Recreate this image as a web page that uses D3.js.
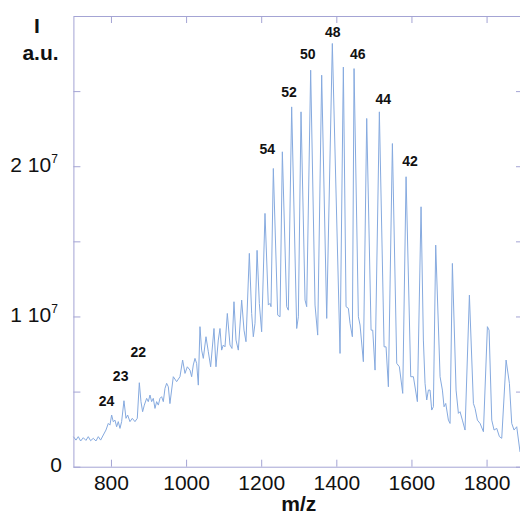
<!DOCTYPE html>
<html lang="en">
<head>
<meta charset="UTF-8">
<title>Mass spectrum</title>
<script src="https://cdn.jsdelivr.net/npm/d3@7"></script>
<style>
  body { margin: 0; background: #fff; }
  svg { display: block; font-family: "Liberation Sans", Arial, sans-serif; }
  .frame { fill: none; stroke: #a4a4d4; stroke-width: 1; }
  .axis path.domain { display: none; }
  .axis line { stroke: #a4a4d4; }
  .axis text { font-size: 21px; fill: #111; font-family: "Liberation Sans", Arial, sans-serif; }
  .spectrum { fill: none; stroke: #86aadf; stroke-width: 1; }
  .charge { font-size: 14px; font-weight: bold; text-anchor: middle; fill: #111; }
  .title { font-size: 21px; font-weight: bold; fill: #111; }
</style>
</head>
<body>
<script>
    // spectrum: m/z and intensity (x 10^6 a.u.)
    const mz = [700, 706.8, 713, 719.2, 726.3, 733.4, 739.6, 745.8, 753, 760, 766.3, 772.5, 779.6, 786.7, 792.9, 797.3,
        801.8, 806.2, 810.7, 815.1, 819.5, 824, 828.4, 834.6, 840, 844.4, 850.6, 856.8, 863.9, 870.1, 875.5, 879.9,
        884.3, 888.8, 895, 899.4, 903.9, 908.3, 912.7, 917.2, 921.6, 926.1, 930.5, 934.9, 939.4, 943.8, 948.2, 952.7,
        957, 966, 974.9, 983.7, 990.8, 997.1, 1003.3, 1010.4, 1014.8, 1019.2, 1023.7, 1028.1, 1032.6, 1037, 1041.4,
        1045.9, 1053, 1059.2, 1065.4, 1074.3, 1079.6, 1085.8, 1090.3, 1094.7, 1099.1, 1103.6, 1109.8, 1116.9, 1122.2,
        1127.5, 1132.9, 1139.1, 1148, 1154.2, 1159.5, 1168.4, 1174.6, 1179, 1183.5, 1189, 1195, 1201.2, 1210.1, 1219,
        1223.4, 1226.1, 1232.3, 1243.9, 1250.1, 1256.3, 1267.8, 1272.3, 1281.1, 1294.5, 1298.9, 1306, 1316.7, 1321.1,
        1331.7, 1343.3, 1350.4, 1361, 1374.4, 1389.4, 1409.9, 1418.7, 1425.9, 1432.1, 1436.5, 1442.7, 1447.2, 1458.7,
        1463.2, 1472, 1480.9, 1492.5, 1496.9, 1503.1, 1514.6, 1527.1, 1532.4, 1538.6, 1549.3, 1560.8, 1567.9, 1576.8,
        1585.7, 1598.1, 1605.2, 1615.8, 1625.6, 1631.8, 1636.2, 1640.7, 1645.1, 1649.5, 1654, 1658.4, 1664.6, 1676.2,
        1682.4, 1686.8, 1691.3, 1698.4, 1702.8, 1709, 1718.8, 1725, 1729.4, 1735.6, 1742.7, 1754.3, 1765, 1769.4,
        1775.6, 1782.7, 1791.6, 1802.2, 1806.7, 1813.8, 1820, 1827.1, 1834.2, 1840.4, 1852, 1860.8, 1867, 1873.2,
        1880.3, 1889, 1896]
    const intensity = [2.0, 1.77, 2.0, 1.71, 1.93, 1.75, 2.0, 1.73, 1.89, 1.71, 2.0, 1.77, 2.11, 2.44, 2.88, 2.77,
        3.44, 2.99, 3.1, 2.66, 3.0, 2.55, 3.0, 4.39, 3.22, 3.44, 3.0, 3.22, 3.0, 3.22, 5.59, 4.33,
        3.66, 4.1, 4.55, 4.33, 4.77, 4.33, 4.55, 3.88, 4.33, 4.1, 4.55, 4.66, 4.33, 5.21, 5.55, 5.32,
        4.2, 5.99, 5.66, 5.99, 7.1, 6.21, 6.65, 6.43, 5.99, 6.77, 7.21, 6.88, 5.43, 9.32, 7.76,
        7.21, 8.65, 7.65, 6.65, 9.2, 6.65, 8.43, 9.2, 7.76, 8.1, 7.98, 10.2, 8.1, 7.87,
        10.98, 8.43, 7.76, 11.09, 9.09, 8.32, 14.2, 10.2, 8.65, 9.54, 14.4, 10.87, 8.98, 16.86, 10.76,
        10.87, 10.65, 19.85, 10.09, 9.98, 20.96, 10.65, 10.42, 23.95, 9.2, 9.98, 23.62, 11.09, 10.65,
        26.39, 10.76, 8.76, 26.06, 9.87, 28.17, 7.54, 26.6, 10.65, 10.54, 9.54, 8.65, 26.5, 9.98,
        9.43, 6.99, 23.18, 9.09, 9.09, 6.43, 23.62, 7.98, 7.98, 5.32, 21.51, 6.88, 6.65, 4.88,
        19.3, 5.99, 5.99, 4.33, 17.3, 8.43, 5.55, 4.44, 5.1, 5.1, 3.77, 3.99, 14.75, 5.99,
        5.1, 3.99, 4.21, 3.1, 2.88, 13.53, 5.1, 3.55, 3.66, 3.1, 2.44, 11.42, 4.21, 3.88,
        3.1, 2.88, 2.33, 9.32, 9.09, 3.1, 2.44, 2.55, 2.0, 1.89, 7.1, 5.55, 2.88, 2.44,
        2.66, 1.0, 0.8]

    // charge state annotations (label anchor in data units)
    const charges = [48, 50, 46, 52, 44, 54, 42, 22, 23, 24]
    const chargeMz = [1390.4, 1323.8, 1457, 1274, 1525.2, 1216.2, 1596.3, 872.7, 825.8, 788.5]
    const chargeI = [28.94, 27.46, 27.46, 24.95, 24.46, 21.14, 20.36, 7.61, 6.05, 4.39]

    const xTicks = [800, 1000, 1200, 1400, 1600, 1800]
    const yTicks = [0, 5, 10, 15, 20, 25]
    const yMantissa = {0: "0", 10: "1 10", 20: "2 10"}
    const yExponent = {10: "7", 20: "7"}

    const W = 520, H = 515
    const margin = {top: 16, right: -3, bottom: 48.3, left: 73.4}
    const width = W - margin.left - margin.right,
        height = H - margin.top - margin.bottom

    const svg = d3.select("body").append("svg").attr("width", W).attr("height", H)
    const chart = svg.append("g").attr("transform", `translate(${[margin.left, margin.top]})`)

    const x = d3.scaleLinear().domain([700, 1897]).range([0, width])
    const y = d3.scaleLinear().domain([0, 30]).range([height, 0])

    // spectrum line
    const pts = mz.map((m, i) => [m, intensity[i]])
    chart.append("path")
        .attr("class", "spectrum")
        .attr("d", d3.line().x(d => x(d[0])).y(d => y(d[1]))(pts))

    // frame + inward ticks on all four sides
    chart.append("rect").attr("class", "frame")
        .attr("x", 0.5).attr("y", 0.5).attr("width", width).attr("height", height)

    chart.append("g").attr("class", "axis")
        .attr("transform", `translate(0,${height})`)
        .call(d3.axisBottom(x).tickValues(xTicks).tickSizeInner(-7).tickSizeOuter(0).tickPadding(8.5).tickFormat(d3.format("d")))

    chart.append("g").attr("class", "axis")
        .call(d3.axisTop(x).tickValues(xTicks).tickSizeInner(-7).tickSizeOuter(0).tickFormat(""))

    chart.append("g").attr("class", "axis")
        .attr("transform", `translate(${width},0)`)
        .call(d3.axisRight(y).tickValues(yTicks).tickSizeInner(-7).tickSizeOuter(0).tickFormat(""))

    const yAxis = chart.append("g").attr("class", "axis")
        .call(d3.axisLeft(y).tickValues(yTicks).tickSizeInner(-7).tickSizeOuter(0).tickFormat(""))

    yAxis.selectAll(".tick text").each(function (d) {
        const t = d3.select(this)
        if (!(d in yMantissa)) return
        t.attr("x", d === 0 ? -11.5 : -15.5).attr("dy", "5px")
        t.text(yMantissa[d])
        if (yExponent[d]) {
            t.append("tspan").attr("font-size", "12px").attr("dy", "-8.5px").text(yExponent[d])
        }
    })

    // axis titles
    svg.append("text").attr("class", "title").attr("x", 37).attr("y", 33).attr("text-anchor", "middle").text("I")
    svg.append("text").attr("class", "title").attr("x", 40.5).attr("y", 60).attr("text-anchor", "middle").text("a.u.")
    svg.append("text").attr("class", "title")
        .attr("x", margin.left + x(1300)).attr("y", 511).attr("text-anchor", "middle").text("m/z")

    // charge labels
    chart.selectAll(".charge").data(charges)
        .join("text")
        .attr("class", "charge")
        .attr("x", (d, i) => x(chargeMz[i]))
        .attr("y", (d, i) => y(chargeI[i]))
        .attr("dy", "0.36em")
        .text(d => d)
</script>
</body>
</html>
